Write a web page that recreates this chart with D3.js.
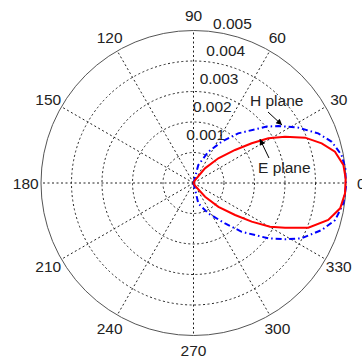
<!DOCTYPE html>
<html><head>
<meta charset="utf-8">
<script src="https://d3js.org/d3.v7.min.js"></script>
<style>
  body { margin: 0; background: #fff; }
  text { font-family: "Liberation Sans", Arial, sans-serif; font-size: 15.5px; fill: #222; }
  .grid { stroke: #222; stroke-width: 1; stroke-dasharray: 2,2.5; fill: none; }
</style>
</head>
<body>
<svg id="polar" width="362" height="360"></svg>
<script>
// angle (deg) , value pairs
const ePlane = [
  [-90, 0], [-60, 0.0001], [-50, 0.00059], [-43.7, 0.00113], [-37.6, 0.00172], [-33.6, 0.00229],
  [-29.7, 0.00289], [-26, 0.00334], [-21.3, 0.00404], [-15.3, 0.00458], [-9.8, 0.00488],
  [-3.9, 0.00498], [1.8, 0.00499], [6.9, 0.00495], [12.5, 0.00475], [17.2, 0.0044],
  [22.1, 0.00395], [26.8, 0.00336], [30.9, 0.00286], [34.3, 0.00231], [38.5, 0.00174],
  [44.9, 0.00115], [52, 0.00061], [62, 0.0001], [90, 0]
];
const hPlane = [
  [-90, 0], [-76.7, 0.00069], [-64, 0.00111], [-52, 0.00168], [-45.3, 0.00225], [-36.5, 0.00305],
  [-31.6, 0.00352], [-27.1, 0.00398], [-20.1, 0.00448], [-14.7, 0.0048], [-7.7, 0.00496],
  [-1.4, 0.005], [5.5, 0.005], [10.7, 0.00494], [16.6, 0.00473], [21.7, 0.0044],
  [27.8, 0.00389], [33.9, 0.00335], [37.6, 0.00303], [48, 0.00219], [55.7, 0.00164],
  [64.7, 0.00113], [75, 0.00061], [90, 0]
];
const rTicks = [0.001, 0.002, 0.003, 0.004, 0.005];
const angleTicks = d3.range(0, 360, 30);
const rMax = 0.005;

const svg = d3.select('#polar');
const cx = 193.5, cy = 183, R = 152.5;
const r = d3.scaleLinear().domain([0, rMax]).range([0, R]);
const rad = d => d * Math.PI / 180;

const g = svg.append('g').attr('transform', `translate(${cx},${cy})`);

// circles
g.selectAll('circle.ring')
  .data(rTicks.slice(0, -1))
  .join('circle')
  .attr('class', 'grid')
  .attr('r', d => r(d));

// spokes
g.selectAll('line.spoke')
  .data(angleTicks)
  .join('line')
  .attr('class', 'grid')
  .attr('x1', 0).attr('y1', 0)
  .attr('x2', d => r(rMax) * Math.cos(rad(d)))
  .attr('y2', d => -r(rMax) * Math.sin(rad(d)));

g.append('circle')
  .attr('r', r(rMax))
  .attr('fill', 'none')
  .attr('stroke', '#555')
  .attr('stroke-width', 1);

// angle labels
g.selectAll('text.ang')
  .data(angleTicks)
  .join('text')
  .attr('x', d => 1.1 * r(rMax) * Math.cos(rad(d)))
  .attr('y', d => -1.1 * r(rMax) * Math.sin(rad(d)))
  .attr('text-anchor', 'middle')
  .attr('dominant-baseline', 'central')
  .text(d => d);

// radial labels
g.selectAll('text.rlab')
  .data(rTicks)
  .join('text')
  .attr('x', d => 0.22 * r(d) - 14)
  .attr('y', d => -0.91 * r(d) - 21)
  .attr('dominant-baseline', 'central')
  .text(d => d3.format('.3f')(d));

// curves
const line = d3.lineRadial()
  .angle(d => rad(90 - d[0]))
  .radius(d => r(d[1]));

g.append('path')
  .attr('d', line(hPlane))
  .attr('fill', 'none')
  .attr('stroke', '#0000ff')
  .attr('stroke-width', 2)
  .attr('stroke-dasharray', '6,3,1.5,3');

g.append('path')
  .attr('d', line(ePlane))
  .attr('fill', 'none')
  .attr('stroke', '#ff0000')
  .attr('stroke-width', 2);

// annotations
svg.append('defs').append('marker')
  .attr('id', 'head')
  .attr('viewBox', '0 0 10 10')
  .attr('refX', 10).attr('refY', 5)
  .attr('markerWidth', 8).attr('markerHeight', 6)
  .attr('markerUnits', 'userSpaceOnUse')
  .attr('orient', 'auto')
  .append('path').attr('d', 'M0,0L10,5L0,10Z').attr('fill', '#000');

const pt = (a, v) => [r(v) * Math.cos(rad(a)), -r(v) * Math.sin(rad(a))];

const hTip = pt(33.2, 0.00347);
g.append('line')
  .attr('x1', 268 - cx).attr('y1', 112 - cy)
  .attr('x2', hTip[0]).attr('y2', hTip[1])
  .attr('stroke', '#000').attr('marker-end', 'url(#head)');
g.append('text')
  .attr('x', 250 - cx).attr('y', 100 - cy)
  .attr('dominant-baseline', 'central')
  .text('H plane');

const eTip = pt(33.5, 0.00261);
g.append('line')
  .attr('x1', 269 - cx).attr('y1', 158 - cy)
  .attr('x2', eTip[0]).attr('y2', eTip[1])
  .attr('stroke', '#000').attr('marker-end', 'url(#head)');
g.append('text')
  .attr('x', 258 - cx).attr('y', 167 - cy)
  .attr('dominant-baseline', 'central')
  .text('E plane');
</script>
</body></html>
